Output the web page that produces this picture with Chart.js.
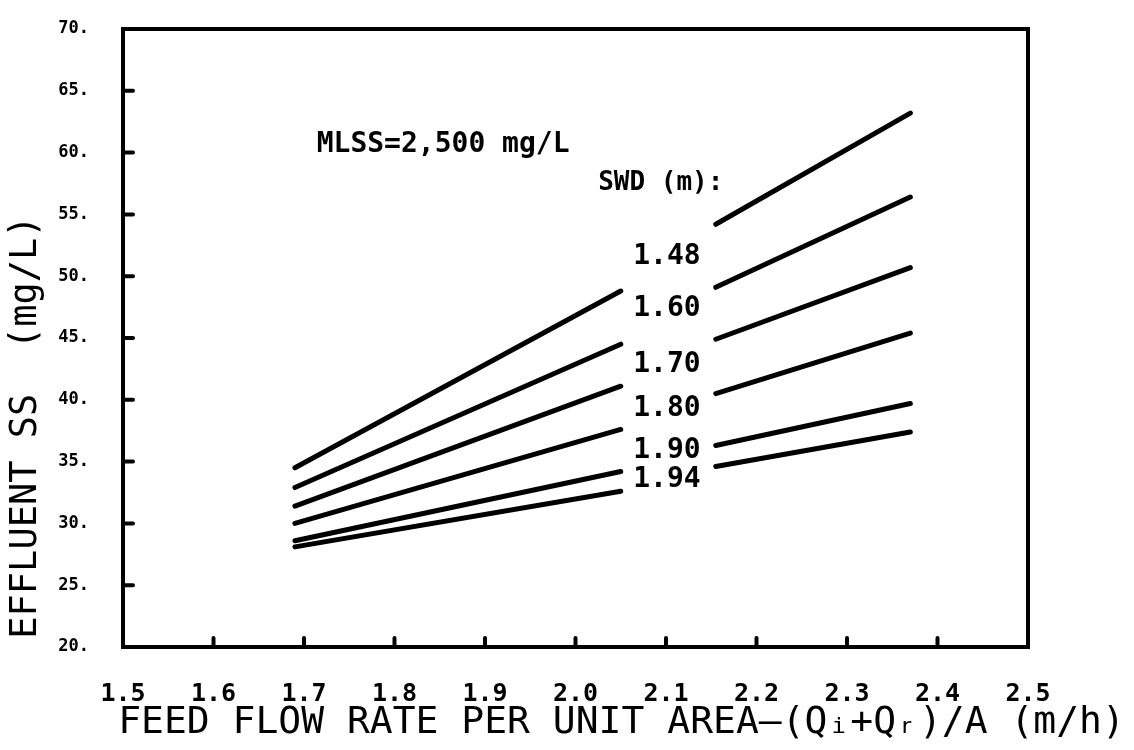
<!DOCTYPE html>
<html>
<head>
<meta charset="utf-8">
<script src="https://cdn.jsdelivr.net/npm/chart.js@4.4.1/dist/chart.umd.min.js"></script>
<style>
  html, body { margin: 0; padding: 0; background: #fff; }
  canvas { display: block; }
</style>
</head>
<body>
<canvas id="grafico" width="1134" height="750"></canvas>
<script>
// Valores (SWD en m)
const swdLabels = ["1.48", "1.60", "1.70", "1.80", "1.90", "1.94"];
const leftX = [1.69, 2.05];
const rightX = [2.155, 2.37];
const leftStart = [34.5, 32.9, 31.4, 30.0, 28.6, 28.1];
const leftEnd = [48.8, 44.5, 41.1, 37.6, 34.2, 32.6];
const rightStart = [54.2, 49.1, 44.9, 40.5, 36.3, 34.6];
const rightEnd = [63.2, 56.4, 50.7, 45.4, 39.7, 37.4];

const xTicks = [1.5, 1.6, 1.7, 1.8, 1.9, 2.0, 2.1, 2.2, 2.3, 2.4, 2.5];
const yTicks = [20, 25, 30, 35, 40, 45, 50, 55, 60, 65, 70];

// posiciones de las etiquetas de SWD (en unidades de datos)
const labelX = 2.101;
const labelY = [51.6, 47.35, 42.8, 39.3, 35.9, 33.5];

const xTitle = "FEED FLOW RATE PER UNIT AREA—(Qᵢ+Qᵣ)/A (m/h)";
const mono = "'DejaVu Sans Mono', 'Liberation Mono', monospace";

const datasets = swdLabels.map(function (lbl, i) {
  return {
    label: "SWD " + lbl,
    data: [
      { x: leftX[0], y: leftStart[i] },
      { x: leftX[1], y: leftEnd[i] },
      { x: (leftX[1] + rightX[0]) / 2, y: null },
      { x: rightX[0], y: rightStart[i] },
      { x: rightX[1], y: rightEnd[i] },
    ],
    borderColor: "#000",
    borderWidth: 5,
    borderCapStyle: "round",
    pointRadius: 0,
    spanGaps: false,
    tension: 0,
  };
});

// marco, marcas hacia dentro y textos
const marco = {
  id: "marco",
  afterDraw(chart) {
    const ctx = chart.ctx;
    const a = chart.chartArea;
    const xs = chart.scales.x;
    const ys = chart.scales.y;
    ctx.save();
    ctx.strokeStyle = "#000";
    ctx.lineWidth = 4;
    ctx.strokeRect(a.left, a.top, a.right - a.left, a.bottom - a.top);

    ctx.lineCap = "round";
    xTicks.slice(1, -1).forEach(function (v) {
      const px = xs.getPixelForValue(v);
      ctx.beginPath();
      ctx.moveTo(px, a.bottom);
      ctx.lineTo(px, a.bottom - 9);
      ctx.stroke();
    });
    yTicks.slice(1, -1).forEach(function (v) {
      const py = ys.getPixelForValue(v);
      ctx.beginPath();
      ctx.moveTo(a.left, py);
      ctx.lineTo(a.left + 10, py);
      ctx.stroke();
    });

    ctx.fillStyle = "#000";
    ctx.textBaseline = "middle";
    ctx.font = "bold 28px " + mono;
    ctx.textAlign = "left";
    ctx.fillText("MLSS=2,500 mg/L", xs.getPixelForValue(1.714), ys.getPixelForValue(60.6));
    ctx.font = "bold 26px " + mono;
    ctx.fillText("SWD (m):", xs.getPixelForValue(2.025), ys.getPixelForValue(57.5));
    ctx.font = "bold 28px " + mono;
    ctx.textAlign = "center";
    swdLabels.forEach(function (lbl, i) {
      ctx.fillText(lbl, xs.getPixelForValue(labelX), ys.getPixelForValue(labelY[i]));
    });

    // titulo del eje x (mas ancho que el area del grafico)
    ctx.font = "38px " + mono;
    ctx.fillText(xTitle, (a.left + chart.width) / 2 - 7, a.bottom + 76);
    ctx.restore();
  },
};

const ctx = document.getElementById("grafico").getContext("2d");
const grafico = new Chart(ctx, {
  type: "line",
  data: { datasets: datasets },
  options: {
    responsive: false,
    devicePixelRatio: 1,
    animation: false,
    layout: { padding: { top: 29, right: 106, left: 0, bottom: 0 } },
    plugins: {
      legend: { display: false },
      tooltip: { enabled: false },
    },
    scales: {
      x: {
        type: "linear",
        min: 1.5,
        max: 2.5,
        afterBuildTicks(scale) {
          scale.ticks = xTicks.map((v) => ({ value: v }));
        },
        afterFit(scale) {
          scale.height = 103;
        },
        grid: { display: false, drawTicks: false },
        border: { display: false },
        ticks: {
          color: "#000",
          padding: 32,
          maxRotation: 0,
          autoSkip: false,
          font: { family: mono, size: 25, weight: "bold" },
          callback: (v) => Number(v).toFixed(1),
        },
      },
      y: {
        type: "linear",
        min: 20,
        max: 70,
        afterBuildTicks(scale) {
          scale.ticks = yTicks.map((v) => ({ value: v }));
        },
        afterFit(scale) {
          scale.width = 123;
          scale.paddingTop = 0;
          scale.paddingBottom = 0;
        },
        grid: { display: false, drawTicks: false },
        border: { display: false },
        ticks: {
          color: "#000",
          padding: 34,
          autoSkip: false,
          font: { family: mono, size: 17, weight: "bold" },
          callback: (v) => v + ".",
        },
        title: {
          display: true,
          text: "EFFLUENT SS  (mg/L)        ",
          color: "#000",
          font: { family: mono, size: 37 },
          padding: { top: 4, bottom: 0 },
        },
      },
    },
  },
  plugins: [marco],
});
</script>
</body>
</html>
